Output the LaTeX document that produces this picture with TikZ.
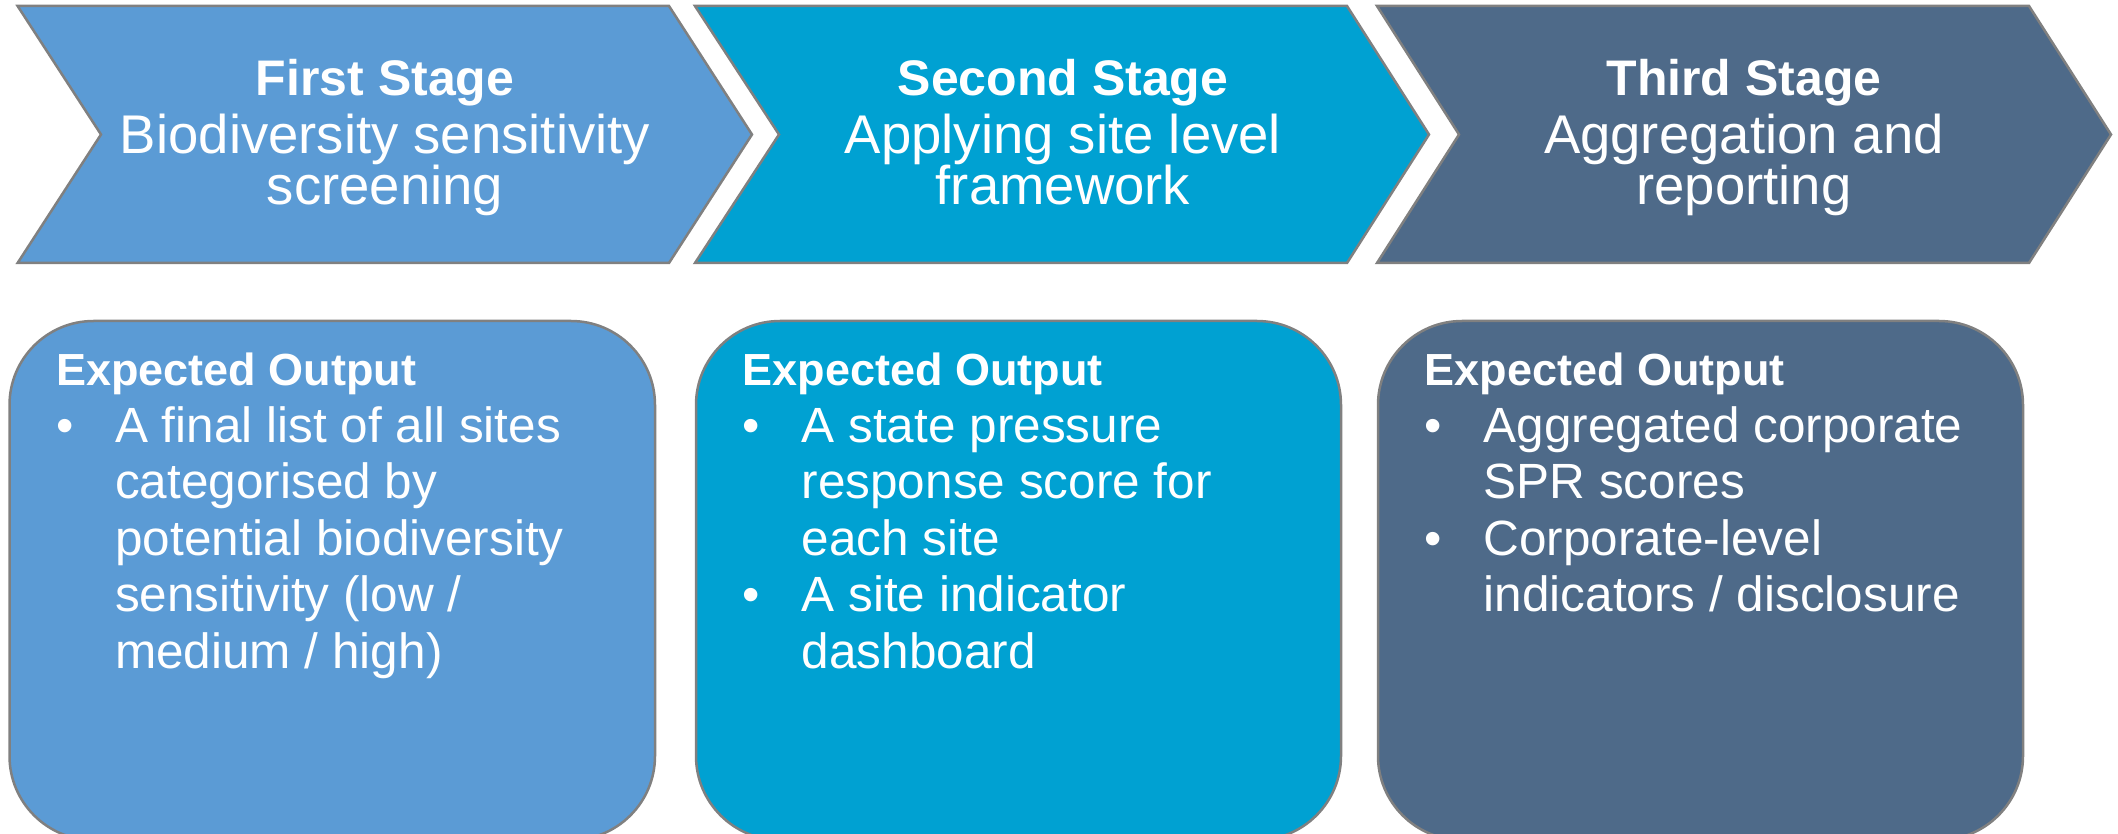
\documentclass[tikz,border=0pt]{standalone}
\usepackage{fontspec}
\setmainfont{Liberation Sans}
\definecolor{stageA}{HTML}{5B9BD5}
\definecolor{stageB}{HTML}{00A1D2}
\definecolor{stageC}{HTML}{4E6A89}
\definecolor{edgegray}{HTML}{808080}
\begin{document}
\begin{tikzpicture}[x=1pt,y=-1pt,
  shapeline/.style={draw=edgegray, line width=2.5pt},
  stagetitle/.style={anchor=base, inner sep=0pt, text=white,
    font=\fontsize{50}{58}\selectfont\bfseries},
  stagesub/.style={anchor=base, inner sep=0pt, text=white, align=center,
    font=\fontsize{54.5}{51}\selectfont},
  outhead/.style={anchor=base west, inner sep=0pt, text=white,
    font=\fontsize{45}{56.5}\selectfont\bfseries},
  outtext/.style={anchor=base west, inner sep=0pt, text=white, align=left,
    font=\fontsize{49.5}{56.5}\selectfont},
  bulletmark/.style={anchor=base west, inner sep=0pt, text=white,
    font=\fontsize{49.5}{56.5}\selectfont}]
\useasboundingbox (0,0) rectangle (2118,834);
\clip (0,0) rectangle (2118,834);

% process chevrons
\fill[stageA, shapeline] (17.6,6) -- (669,6) -- (752,134.5) -- (669,263) -- (17.6,263) -- (101,134.5) -- cycle;
\fill[stageB, shapeline] (695,6) -- (1347,6) -- (1429,134.5) -- (1347,263) -- (695,263) -- (779,134.5) -- cycle;
\fill[stageC, shapeline] (1377,6) -- (2029,6) -- (2111,134.5) -- (2029,263) -- (1377,263) -- (1459,134.5) -- cycle;

% output panels
\fill[stageA, shapeline, rounded corners=84pt] (9.5,321) rectangle (655,840);
\fill[stageB, shapeline, rounded corners=84pt] (696,321) rectangle (1341,840);
\fill[stageC, shapeline, rounded corners=84pt] (1378,321) rectangle (2023,840);

% stage headings (multi-line nodes sit on the baseline of their last line)
\node[stagetitle] (t1) at (385,95.7) {First Stage};
\node[stagesub]   (s1) at (385,205) {Biodiversity sensitivity\\screening};
\node[stagetitle] (t2) at (1063,95.7) {Second Stage};
\node[stagesub]   (s2) at (1063,205) {Applying site level\\framework};
\node[stagetitle] (t3) at (1744,95.7) {Third Stage};
\node[stagesub]   (s3) at (1744,205) {Aggregation and\\reporting};

% first panel
\node[outhead]    (h1)  at (56,385) {Expected Output};
\node[bulletmark] (d1a) at (56,442) {\textbullet};
\node[outtext]    (o1a) at (115,668) {A final list of all sites\\categorised by\\potential biodiversity\\sensitivity (low /\\medium / high)};

% second panel
\node[outhead]    (h2)  at (742.5,385) {Expected Output};
\node[bulletmark] (d2a) at (742.5,442) {\textbullet};
\node[outtext]    (o2a) at (801.5,555) {A state pressure\\response score for\\each site};
\node[bulletmark] (d2b) at (742.5,611.5) {\textbullet};
\node[outtext]    (o2b) at (801.5,668) {A site indicator\\dashboard};

% third panel
\node[outhead]    (h3)  at (1424.5,385) {Expected Output};
\node[bulletmark] (d3a) at (1424.5,442) {\textbullet};
\node[outtext]    (o3a) at (1483.5,498.5) {Aggregated corporate\\SPR scores};
\node[bulletmark] (d3b) at (1424.5,555) {\textbullet};
\node[outtext]    (o3b) at (1483.5,611.5) {Corporate-level\\indicators / disclosure};
\end{tikzpicture}
\end{document}
